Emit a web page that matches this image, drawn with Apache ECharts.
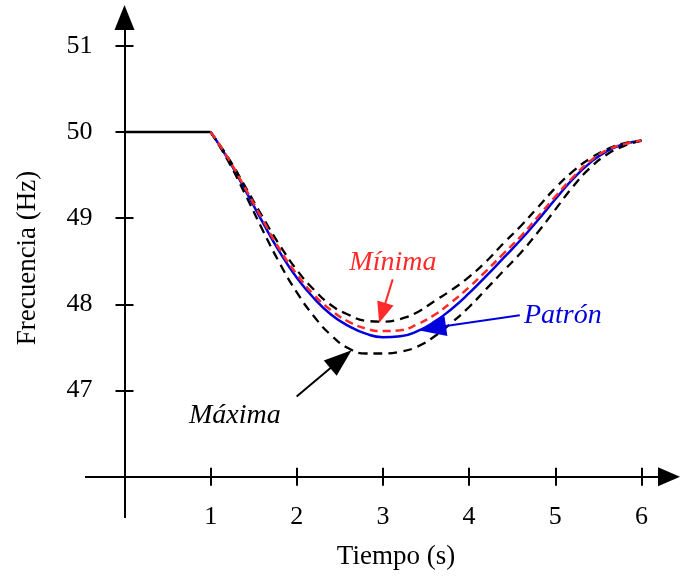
<!DOCTYPE html>
<html>
<head>
<meta charset="utf-8">
<script src="https://cdn.jsdelivr.net/npm/echarts@6/dist/echarts.min.js"></script>
<style>
  html, body { margin: 0; padding: 0; background: #fff; }
  #chart { width: 680px; height: 579px; }
</style>
</head>
<body>
<div id="chart"></div>
<script>
// time axis (s) shared by all the disturbance curves
const timeS = [1.0, 1.2, 1.4, 1.6, 1.8, 2.0, 2.2, 2.4, 2.6, 2.8, 3.0, 3.2, 3.4,
  3.6, 3.8, 4.0, 4.2, 4.4, 4.6, 4.8, 5.0, 5.2, 5.4, 5.6, 5.8, 6.0];

// frequency (Hz)
const patron = [50.00, 49.69, 49.33, 48.96, 48.61, 48.31, 48.07, 47.88, 47.75, 47.66,
  47.62, 47.63, 47.69, 47.80, 47.95, 48.13, 48.33, 48.54, 48.75, 48.98, 49.22, 49.45,
  49.64, 49.78, 49.86, 49.90];
const minima = [50.00, 49.70, 49.35, 48.99, 48.64, 48.35, 48.11, 47.93, 47.80, 47.72,
  47.69, 47.70, 47.77, 47.88, 48.03, 48.20, 48.39, 48.59, 48.79, 49.02, 49.25, 49.47,
  49.66, 49.79, 49.86, 49.90];
const superior = [50.00, 49.71, 49.37, 49.02, 48.69, 48.40, 48.17, 47.99, 47.88, 47.81,
  47.80, 47.83, 47.91, 48.04, 48.17, 48.32, 48.50, 48.71, 48.91, 49.13, 49.35, 49.54,
  49.69, 49.80, 49.87, 49.90];
const maxima = [50.00, 49.67, 49.28, 48.87, 48.48, 48.14, 47.86, 47.64, 47.49, 47.43,
  47.43, 47.45, 47.51, 47.63, 47.79, 47.97, 48.18, 48.39, 48.60, 48.84, 49.10, 49.36,
  49.58, 49.74, 49.84, 49.90];

// steady state before the disturbance
const preTime = [0, 1];
const preFreq = [50, 50];

const xTicks = [1, 2, 3, 4, 5, 6];
const yTicks = [47, 48, 49, 50, 51];

// annotation placement, in data units ("to" is the centre of the arrow head)
const notes = {
  minima: { text: 'Mínima', at: [3.115, 48.49], from: [3.113, 48.29], to: [2.992, 47.90] },
  patron: { text: 'Patrón', at: [5.087, 47.87], from: [4.588, 47.875], to: [3.570, 47.725] },
  maxima: { text: 'Máxima', at: [1.28, 46.71], from: [1.998, 46.93], to: [2.512, 47.364] }
};

const serif = '"Liberation Serif", "DejaVu Serif", serif';
const zip = (xs, ys) => xs.map((x, i) => [x, ys[i]]);

function note(n, color, size) {
  return {
    markPoint: {
      silent: true,
      symbol: 'rect',
      symbolSize: 0,
      data: [{
        coord: n.at,
        label: {
          show: true, position: 'inside', formatter: n.text, color: color,
          fontSize: 28, fontStyle: 'italic', fontFamily: serif
        }
      }]
    },
    markLine: {
      silent: true,
      symbol: ['none', 'triangle'],
      symbolSize: size,
      label: { show: false },
      lineStyle: { type: 'solid', width: 2, color: color },
      emphasis: { disabled: true },
      data: [[{ coord: n.from }, { coord: n.to }]]
    }
  };
}

const chart = echarts.init(document.getElementById('chart'));

const axisX = {
  type: 'value', min: 0, max: 6.32, gridIndex: 0, position: 'bottom',
  splitLine: { show: false }
};
const axisY = {
  type: 'value', min: 46, max: 51.33, gridIndex: 0, position: 'left',
  splitLine: { show: false }
};

chart.setOption({
  animation: false,
  backgroundColor: '#fff',
  grid: { left: 124.5, right: 11, top: 17.5, bottom: 102.3 },
  xAxis: [
    Object.assign({}, axisX, {
      axisLine: { symbol: ['none', 'triangle'], symbolSize: [19, 22], lineStyle: { color: '#000', width: 2 } },
      axisTick: { length: 9, customValues: xTicks, lineStyle: { color: '#000', width: 2 } },
      axisLabel: { customValues: xTicks, margin: 27, fontSize: 26, fontFamily: serif, color: '#000' }
    }),
    Object.assign({}, axisX, {
      axisLine: { show: false },
      axisTick: { inside: true, length: 9, customValues: xTicks, lineStyle: { color: '#000', width: 2 } },
      axisLabel: { show: false }
    })
  ],
  yAxis: [
    Object.assign({}, axisY, {
      axisLine: { symbol: ['none', 'triangle'], symbolSize: [20, 25], lineStyle: { color: '#000', width: 2 } },
      axisTick: { length: 9, customValues: yTicks, lineStyle: { color: '#000', width: 2 } },
      axisLabel: { customValues: yTicks, margin: 32, fontSize: 26, fontFamily: serif, color: '#000' }
    }),
    Object.assign({}, axisY, {
      axisLine: { show: false },
      axisTick: { inside: true, length: 9, customValues: yTicks, lineStyle: { color: '#000', width: 2 } },
      axisLabel: { show: false }
    })
  ],
  graphic: [
    // axis stubs past the origin
    { type: 'line', shape: { x1: 85, y1: 477, x2: 125, y2: 477 }, style: { stroke: '#000', lineWidth: 2 } },
    { type: 'line', shape: { x1: 125, y1: 477, x2: 125, y2: 518 }, style: { stroke: '#000', lineWidth: 2 } },
    {
      type: 'text', x: 28, y: 258, rotation: Math.PI / 2,
      style: { text: 'Frecuencia (Hz)', font: '27px ' + serif, fill: '#000', textAlign: 'center', textVerticalAlign: 'middle' }
    },
    {
      type: 'text', x: 396, y: 557,
      style: { text: 'Tiempo (s)', font: '27px ' + serif, fill: '#000', textAlign: 'center', textVerticalAlign: 'middle' }
    }
  ],
  series: [
    {
      name: 'Inicial', type: 'line', data: zip(preTime, preFreq), symbol: 'none',
      lineStyle: { color: '#000', width: 2.5 }, z: 2
    },
    Object.assign({
      name: 'Patrón', type: 'line', data: zip(timeS, patron), symbol: 'none', smooth: 0.5,
      lineStyle: { color: '#0000dd', width: 2.5 }, z: 2
    }, note(notes.patron, '#0000dd', [20, 28])),
    {
      name: 'Superior', type: 'line', data: zip(timeS, superior), symbol: 'none', smooth: 0.5,
      lineStyle: { color: '#000', width: 2.3, type: [9, 6] }, z: 3
    },
    Object.assign({
      name: 'Máxima', type: 'line', data: zip(timeS, maxima), symbol: 'none', smooth: 0.5,
      lineStyle: { color: '#000', width: 2.3, type: [9, 6] }, z: 3
    }, note(notes.maxima, '#000', [20, 28])),
    Object.assign({
      name: 'Mínima', type: 'line', data: zip(timeS, minima), symbol: 'none', smooth: 0.5,
      lineStyle: { color: '#ff2a2a', width: 2.5, type: [8, 5] }, z: 4
    }, note(notes.minima, '#ff2a2a', [17, 21]))
  ]
});
</script>
</body>
</html>
